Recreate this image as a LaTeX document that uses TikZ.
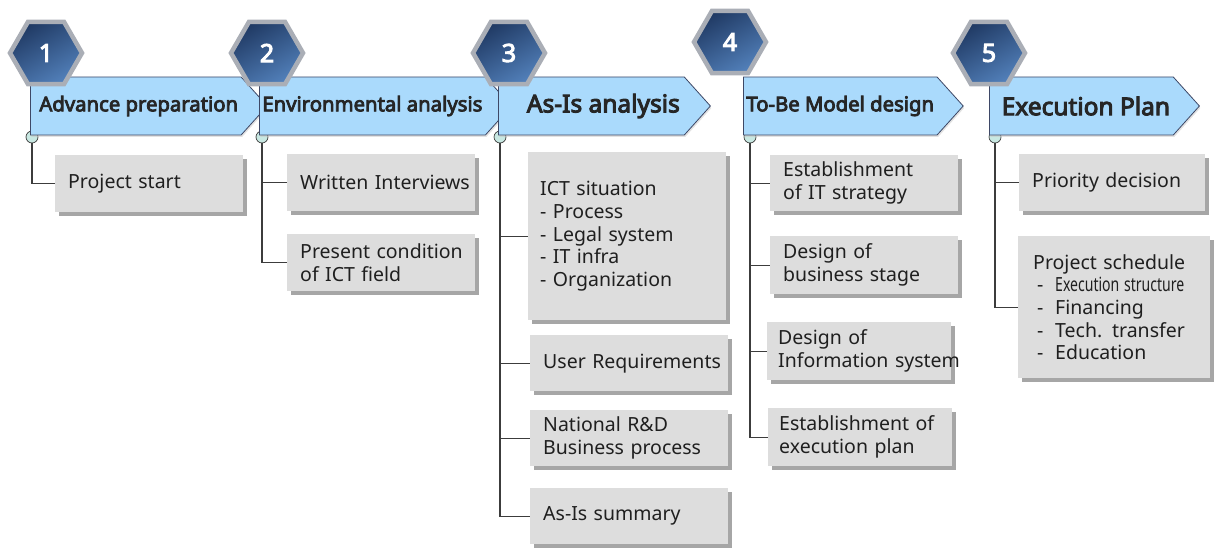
\documentclass[tikz,border=0pt]{standalone}
\usepackage{fontspec}
\setmainfont{Noto Sans}
\newfontfamily\headfont{Noto Sans}[FakeBold=4]
\usetikzlibrary{shapes.geometric}
\usetikzlibrary{shapes.symbols}
\usetikzlibrary{shadows}
\definecolor{hexdark}{RGB}{32,58,100}
\definecolor{hexlight}{RGB}{82,128,186}
\definecolor{hexrim}{RGB}{170,174,182}
\definecolor{headfill}{RGB}{170,218,252}
\definecolor{headline}{RGB}{62,72,102}
\definecolor{boxfill}{RGB}{221,221,221}
\definecolor{boxshade}{RGB}{150,150,150}
\definecolor{dotfill}{RGB}{200,232,226}
\definecolor{linkgray}{RGB}{60,60,60}
\tikzset{
    stepnum/.style = {regular polygon, regular polygon sides=6, minimum size=72pt, inner sep=0pt, draw=hexrim, line width=4.5pt, top color=hexdark, bottom color=hexlight, shading angle=30, text=white, font=\headfont\fontsize{25}{25}\selectfont},
    headbox/.style = {signal, signal to=east, signal pointer angle=96, minimum height=58pt, anchor=west, draw=headline, fill=headfill, line width=0.8pt, text=black!85, inner sep=3pt, font=\headfont\fontsize{20.3}{22}\selectfont, drop shadow={shadow xshift=1pt, shadow yshift=-2pt, fill=gray!45}},
    bighead/.style = {headbox, font=\headfont\fontsize{24.5}{26}\selectfont},
    dot/.style = {circle, minimum size=12pt, inner sep=0pt, fill=dotfill, draw=linkgray, line width=0.7pt},
    taskbox/.style = {rectangle, anchor=north west, fill=boxfill, align=left, inner xsep=13pt, inner ysep=2pt, text width=162pt, minimum height=57pt, text=black!88, font=\fontsize{19.5}{22.7}\selectfont, drop shadow={shadow xshift=3.5pt, shadow yshift=-3.5pt, fill=boxshade, opacity=0.85}},
    link/.style = {draw=linkgray, line width=1.3pt}
}
\newcommand{\dashitem}[1]{\hspace{4pt}\makebox[18pt][l]{-}#1}
\begin{document}
\begin{tikzpicture}[x=1pt, y=-1pt]
    \useasboundingbox (0,0) rectangle (1215,548);
    % boxes
    \node [taskbox] (b11) at (55,155) {Project start};
    \node [taskbox] (b21) at (287,154) {\mbox{Written Interviews}};
    \node [taskbox] (b22) at (287,234) {\mbox{Present condition}\\of ICT field};
    \node [taskbox, text width=174pt, minimum height=168pt, inner xsep=12pt] (b31) at (528,152) {ICT situation\\- Process\\- Legal system\\- IT infra\\- Organization};
    \node [taskbox, text width=172pt, minimum height=56pt] (b32) at (530,335) {\mbox{User Requirements}};
    \node [taskbox, text width=172pt, minimum height=56pt] (b33) at (530,410) {National R\&D\\Business process};
    \node [taskbox, text width=172pt, minimum height=56pt] (b34) at (530,488) {As-Is summary};
    \node [taskbox, minimum height=56pt] (b41) at (770,155) {Establishment\\of IT strategy};
    \node [taskbox, minimum height=58pt] (b42) at (770,236) {Design of\\business stage};
    \node [taskbox, minimum height=58pt, inner xsep=11pt] (b43) at (767,322) {Design of\\\mbox{Information system}};
    \node [taskbox, minimum height=58pt, inner xsep=11pt] (b44) at (768,408) {Establishment of\\execution plan};
    \node [taskbox, text width=160pt] (b51) at (1019,154) {Priority decision};
    \node [taskbox, text width=162pt, minimum height=142pt, inner xsep=15pt] (b52) at (1018,236) {Project schedule\\\dashitem{\scalebox{0.72}[1]{Execution structure}}\\\dashitem{Financing}\\\dashitem{Tech. transfer}\\\dashitem{Education}};
    % dots
    \node [dot] (c1) at (32,137) {};
    \node [dot] (c2) at (262,137) {};
    \node [dot] (c3) at (500,137) {};
    \node [dot] (c4) at (750,137) {};
    \node [dot] (c5) at (995,137) {};
    % links
    \draw [link] (c1) |- (b11.west);
    \draw [link] (c2) |- (b21.west);
    \draw [link] (c2) |- (b22.west);
    \draw [link] (c3) |- (b31.west);
    \draw [link] (c3) |- (b32.west);
    \draw [link] (c3) |- (b33.west);
    \draw [link] (c3) |- (b34.west);
    \draw [link] (c4) |- (b41.west);
    \draw [link] (c4) |- (b42.west);
    \draw [link] (c4) |- (b43.west);
    \draw [link] (c4) |- (b44.west);
    \draw [link] (c5) |- (b51.west);
    \draw [link] (c5) |- (b52.west);
    % headers
    \node [headbox, minimum width=213pt] (h1) at (30,106) {\hspace{6pt}Advance preparation};
    \node [headbox, minimum width=228pt] (h2) at (259,106) {Environmental analysis};
    \node [bighead, minimum width=212pt] (h3) at (498,106) {\hspace{24pt}As-Is analysis};
    \node [headbox, minimum width=211pt] (h4) at (743,106) {To-Be Model design};
    \node [bighead, minimum width=210pt] (h5) at (989,106) {\hspace{9pt}Execution Plan};
    % step numbers
    \node [stepnum] (s1) at (46,53) {1};
    \node [stepnum] (s2) at (267,53) {2};
    \node [stepnum] (s3) at (509,53) {3};
    \node [stepnum] (s4) at (730,42) {4};
    \node [stepnum] (s5) at (989,53) {5};
\end{tikzpicture}
\end{document}
